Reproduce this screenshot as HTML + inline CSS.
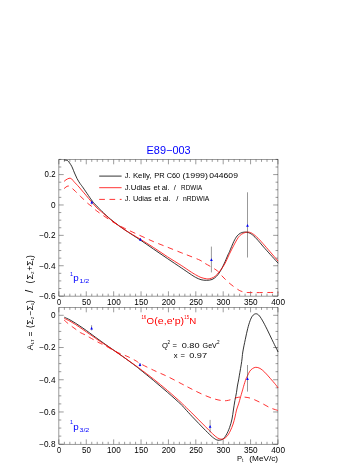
<!DOCTYPE html><html><head><meta charset="utf-8"><style>html,body{margin:0;padding:0;background:#fff}svg{display:block;will-change:transform}text{font-family:"Liberation Sans",sans-serif}</style></head><body>
<svg width="364" height="471" viewBox="0 0 364 471">
<rect width="364" height="471" fill="#fff"/>
<g stroke="#222" stroke-width="0.45" fill="none">
<rect x="58.90" y="159.50" width="219.05" height="136.60"/>
<rect x="58.90" y="307.50" width="219.05" height="136.70"/>
<path d="M58.90 159.50v4.80M58.90 296.10v-4.80M64.38 159.50v2.40M64.38 296.10v-2.40M69.85 159.50v2.40M69.85 296.10v-2.40M75.33 159.50v2.40M75.33 296.10v-2.40M80.81 159.50v2.40M80.81 296.10v-2.40M86.28 159.50v4.80M86.28 296.10v-4.80M91.76 159.50v2.40M91.76 296.10v-2.40M97.23 159.50v2.40M97.23 296.10v-2.40M102.71 159.50v2.40M102.71 296.10v-2.40M108.19 159.50v2.40M108.19 296.10v-2.40M113.66 159.50v4.80M113.66 296.10v-4.80M119.14 159.50v2.40M119.14 296.10v-2.40M124.61 159.50v2.40M124.61 296.10v-2.40M130.09 159.50v2.40M130.09 296.10v-2.40M135.57 159.50v2.40M135.57 296.10v-2.40M141.04 159.50v4.80M141.04 296.10v-4.80M146.52 159.50v2.40M146.52 296.10v-2.40M152.00 159.50v2.40M152.00 296.10v-2.40M157.47 159.50v2.40M157.47 296.10v-2.40M162.95 159.50v2.40M162.95 296.10v-2.40M168.43 159.50v4.80M168.43 296.10v-4.80M173.90 159.50v2.40M173.90 296.10v-2.40M179.38 159.50v2.40M179.38 296.10v-2.40M184.85 159.50v2.40M184.85 296.10v-2.40M190.33 159.50v2.40M190.33 296.10v-2.40M195.81 159.50v4.80M195.81 296.10v-4.80M201.28 159.50v2.40M201.28 296.10v-2.40M206.76 159.50v2.40M206.76 296.10v-2.40M212.23 159.50v2.40M212.23 296.10v-2.40M217.71 159.50v2.40M217.71 296.10v-2.40M223.19 159.50v4.80M223.19 296.10v-4.80M228.66 159.50v2.40M228.66 296.10v-2.40M234.14 159.50v2.40M234.14 296.10v-2.40M239.62 159.50v2.40M239.62 296.10v-2.40M245.09 159.50v2.40M245.09 296.10v-2.40M250.57 159.50v4.80M250.57 296.10v-4.80M256.05 159.50v2.40M256.05 296.10v-2.40M261.52 159.50v2.40M261.52 296.10v-2.40M267.00 159.50v2.40M267.00 296.10v-2.40M272.47 159.50v2.40M272.47 296.10v-2.40M277.95 159.50v4.80M277.95 296.10v-4.80M58.90 307.50v4.80M58.90 444.20v-4.80M64.38 307.50v2.40M64.38 444.20v-2.40M69.85 307.50v2.40M69.85 444.20v-2.40M75.33 307.50v2.40M75.33 444.20v-2.40M80.81 307.50v2.40M80.81 444.20v-2.40M86.28 307.50v4.80M86.28 444.20v-4.80M91.76 307.50v2.40M91.76 444.20v-2.40M97.23 307.50v2.40M97.23 444.20v-2.40M102.71 307.50v2.40M102.71 444.20v-2.40M108.19 307.50v2.40M108.19 444.20v-2.40M113.66 307.50v4.80M113.66 444.20v-4.80M119.14 307.50v2.40M119.14 444.20v-2.40M124.61 307.50v2.40M124.61 444.20v-2.40M130.09 307.50v2.40M130.09 444.20v-2.40M135.57 307.50v2.40M135.57 444.20v-2.40M141.04 307.50v4.80M141.04 444.20v-4.80M146.52 307.50v2.40M146.52 444.20v-2.40M152.00 307.50v2.40M152.00 444.20v-2.40M157.47 307.50v2.40M157.47 444.20v-2.40M162.95 307.50v2.40M162.95 444.20v-2.40M168.43 307.50v4.80M168.43 444.20v-4.80M173.90 307.50v2.40M173.90 444.20v-2.40M179.38 307.50v2.40M179.38 444.20v-2.40M184.85 307.50v2.40M184.85 444.20v-2.40M190.33 307.50v2.40M190.33 444.20v-2.40M195.81 307.50v4.80M195.81 444.20v-4.80M201.28 307.50v2.40M201.28 444.20v-2.40M206.76 307.50v2.40M206.76 444.20v-2.40M212.23 307.50v2.40M212.23 444.20v-2.40M217.71 307.50v2.40M217.71 444.20v-2.40M223.19 307.50v4.80M223.19 444.20v-4.80M228.66 307.50v2.40M228.66 444.20v-2.40M234.14 307.50v2.40M234.14 444.20v-2.40M239.62 307.50v2.40M239.62 444.20v-2.40M245.09 307.50v2.40M245.09 444.20v-2.40M250.57 307.50v4.80M250.57 444.20v-4.80M256.05 307.50v2.40M256.05 444.20v-2.40M261.52 307.50v2.40M261.52 444.20v-2.40M267.00 307.50v2.40M267.00 444.20v-2.40M272.47 307.50v2.40M272.47 444.20v-2.40M277.95 307.50v4.80M277.95 444.20v-4.80M58.90 296.11h4.80M277.95 296.11h-4.80M58.90 288.51h2.40M277.95 288.51h-2.40M58.90 280.92h2.40M277.95 280.92h-2.40M58.90 273.32h2.40M277.95 273.32h-2.40M58.90 265.73h4.80M277.95 265.73h-4.80M58.90 258.13h2.40M277.95 258.13h-2.40M58.90 250.54h2.40M277.95 250.54h-2.40M58.90 242.94h2.40M277.95 242.94h-2.40M58.90 235.35h4.80M277.95 235.35h-4.80M58.90 227.75h2.40M277.95 227.75h-2.40M58.90 220.16h2.40M277.95 220.16h-2.40M58.90 212.56h2.40M277.95 212.56h-2.40M58.90 204.97h4.80M277.95 204.97h-4.80M58.90 197.38h2.40M277.95 197.38h-2.40M58.90 189.78h2.40M277.95 189.78h-2.40M58.90 182.19h2.40M277.95 182.19h-2.40M58.90 174.59h4.80M277.95 174.59h-4.80M58.90 167.00h2.40M277.95 167.00h-2.40M58.90 159.40h2.40M277.95 159.40h-2.40M58.90 444.18h4.80M277.95 444.18h-4.80M58.90 436.12h2.40M277.95 436.12h-2.40M58.90 428.07h2.40M277.95 428.07h-2.40M58.90 420.01h2.40M277.95 420.01h-2.40M58.90 411.96h4.80M277.95 411.96h-4.80M58.90 403.91h2.40M277.95 403.91h-2.40M58.90 395.85h2.40M277.95 395.85h-2.40M58.90 387.80h2.40M277.95 387.80h-2.40M58.90 379.74h4.80M277.95 379.74h-4.80M58.90 371.69h2.40M277.95 371.69h-2.40M58.90 363.63h2.40M277.95 363.63h-2.40M58.90 355.57h2.40M277.95 355.57h-2.40M58.90 347.52h4.80M277.95 347.52h-4.80M58.90 339.47h2.40M277.95 339.47h-2.40M58.90 331.41h2.40M277.95 331.41h-2.40M58.90 323.36h2.40M277.95 323.36h-2.40M58.90 315.30h4.80M277.95 315.30h-4.80"/>
</g>
<g fill="none" stroke-width="0.80" stroke-linejoin="round">
<path stroke="#000" d="M64.00 160.00 C64.50 160.07 66.27 160.17 67.00 160.40 C67.73 160.63 67.77 160.68 68.40 161.40 C69.03 162.12 70.12 163.60 70.80 164.70 C71.48 165.80 71.88 166.62 72.50 168.00 C73.12 169.38 73.75 171.25 74.50 173.00 C75.25 174.75 76.08 176.75 77.00 178.50 C77.92 180.25 79.13 182.18 80.00 183.50 C80.87 184.82 81.00 184.70 82.20 186.40 C83.40 188.10 85.62 191.38 87.20 193.70 C88.78 196.02 90.47 198.62 91.70 200.30 C92.93 201.98 93.50 202.58 94.60 203.80 C95.70 205.02 97.40 206.67 98.30 207.60 C99.20 208.53 98.88 208.28 100.00 209.40 C101.12 210.52 102.83 212.33 105.00 214.30 C107.17 216.27 109.67 218.58 113.00 221.20 C116.33 223.82 120.50 226.90 125.00 230.00 C129.50 233.10 135.22 236.60 140.00 239.80 C144.78 243.00 149.12 246.07 153.70 249.20 C158.28 252.33 162.92 255.50 167.50 258.60 C172.08 261.70 177.45 265.27 181.20 267.80 C184.95 270.33 187.62 272.22 190.00 273.80 C192.38 275.38 193.67 276.32 195.50 277.30 C197.33 278.28 199.17 279.20 201.00 279.70 C202.83 280.20 204.67 280.33 206.50 280.30 C208.33 280.27 210.35 280.15 212.00 279.50 C213.65 278.85 215.03 277.75 216.40 276.40 C217.77 275.05 218.93 273.47 220.20 271.40 C221.47 269.33 222.72 266.73 224.00 264.00 C225.28 261.27 226.97 257.10 227.90 255.00 C228.83 252.90 228.62 253.65 229.60 251.40 C230.58 249.15 232.55 244.07 233.80 241.50 C235.05 238.93 236.00 237.38 237.10 236.00 C238.20 234.62 239.22 233.85 240.40 233.20 C241.58 232.55 242.92 232.22 244.20 232.10 C245.48 231.98 246.72 232.03 248.10 232.50 C249.48 232.97 250.85 233.58 252.50 234.90 C254.15 236.22 255.92 238.12 258.00 240.40 C260.08 242.68 261.63 244.80 265.00 248.60 C268.37 252.40 276.00 260.77 278.20 263.20"/>
<path stroke="#f00" d="M64.00 181.50 C64.33 181.22 65.17 180.33 66.00 179.80 C66.83 179.27 68.17 178.52 69.00 178.30 C69.83 178.08 70.42 178.25 71.00 178.50 C71.58 178.75 72.00 179.27 72.50 179.80 C73.00 180.33 72.92 180.50 74.00 181.70 C75.08 182.90 77.35 185.15 79.00 187.00 C80.65 188.85 82.27 190.87 83.90 192.80 C85.53 194.73 87.28 196.80 88.80 198.60 C90.32 200.40 91.63 202.03 93.00 203.60 C94.37 205.17 95.83 206.85 97.00 208.00 C98.17 209.15 98.67 209.37 100.00 210.50 C101.33 211.63 102.83 212.97 105.00 214.80 C107.17 216.63 109.67 218.97 113.00 221.50 C116.33 224.03 120.50 227.08 125.00 230.00 C129.50 232.92 135.22 236.07 140.00 239.00 C144.78 241.93 149.12 244.63 153.70 247.60 C158.28 250.57 162.92 253.83 167.50 256.80 C172.08 259.77 177.45 262.98 181.20 265.40 C184.95 267.82 187.62 269.75 190.00 271.30 C192.38 272.85 193.67 273.67 195.50 274.70 C197.33 275.73 199.17 276.82 201.00 277.50 C202.83 278.18 205.13 278.58 206.50 278.80 C207.87 279.02 208.02 279.05 209.20 278.80 C210.38 278.55 212.22 278.10 213.60 277.30 C214.98 276.50 216.22 275.35 217.50 274.00 C218.78 272.65 220.03 270.98 221.30 269.20 C222.57 267.42 223.78 265.75 225.10 263.30 C226.42 260.85 227.75 257.50 229.20 254.50 C230.65 251.50 232.30 248.12 233.80 245.30 C235.30 242.48 236.92 239.43 238.20 237.60 C239.48 235.77 240.32 235.15 241.50 234.30 C242.68 233.45 244.12 232.87 245.30 232.50 C246.48 232.13 247.40 231.92 248.60 232.10 C249.80 232.28 250.93 232.58 252.50 233.60 C254.07 234.62 255.92 236.15 258.00 238.20 C260.08 240.25 261.63 242.07 265.00 245.90 C268.37 249.73 276.00 258.65 278.20 261.20"/>
<path stroke="#f00" stroke-dasharray="5.7 4.57" d="M64.00 188.70 C64.33 188.42 65.33 187.45 66.00 187.00 C66.67 186.55 67.33 186.08 68.00 186.00 C68.67 185.92 69.33 186.13 70.00 186.50 C70.67 186.87 71.33 187.62 72.00 188.20 C72.67 188.78 73.18 189.23 74.00 190.00 C74.82 190.77 75.87 191.78 76.90 192.80 C77.93 193.82 79.03 194.97 80.20 196.10 C81.37 197.23 82.60 198.35 83.90 199.60 C85.20 200.85 86.70 202.47 88.00 203.60 C89.30 204.73 90.53 205.42 91.70 206.40 C92.87 207.38 93.62 208.35 95.00 209.50 C96.38 210.65 97.00 211.22 100.00 213.30 C103.00 215.38 108.83 219.47 113.00 222.00 C117.17 224.53 120.50 226.25 125.00 228.50 C129.50 230.75 135.22 233.30 140.00 235.50 C144.78 237.70 149.12 239.75 153.70 241.70 C158.28 243.65 162.92 245.37 167.50 247.20 C172.08 249.03 177.45 251.22 181.20 252.70 C184.95 254.18 186.87 254.85 190.00 256.10 C193.13 257.35 197.62 259.05 200.00 260.20 C202.38 261.35 202.63 262.00 204.30 263.00 C205.97 264.00 207.80 264.87 210.00 266.20 C212.20 267.53 215.33 269.20 217.50 271.00 C219.67 272.80 220.92 274.88 223.00 277.00 C225.08 279.12 227.50 281.60 230.00 283.70 C232.50 285.80 236.00 288.30 238.00 289.60 C240.00 290.90 240.67 291.03 242.00 291.50 C243.33 291.97 243.83 292.22 246.00 292.40 C248.17 292.58 249.63 292.60 255.00 292.60 C260.37 292.60 274.33 292.43 278.20 292.40"/>
<path stroke="#000" d="M64.30 317.20 C65.25 317.65 68.13 318.90 70.00 319.90 C71.87 320.90 73.67 322.05 75.50 323.20 C77.33 324.35 79.17 325.57 81.00 326.80 C82.83 328.03 84.67 329.28 86.50 330.60 C88.33 331.92 89.92 333.17 92.00 334.70 C94.08 336.23 96.22 337.80 99.00 339.80 C101.78 341.80 104.78 343.95 108.70 346.70 C112.62 349.45 117.92 353.02 122.50 356.30 C127.08 359.58 133.28 364.20 136.20 366.40 C139.12 368.60 137.08 367.13 140.00 369.50 C142.92 371.87 149.12 376.80 153.70 380.60 C158.28 384.40 162.92 388.30 167.50 392.30 C172.08 396.30 178.28 401.85 181.20 404.60 C184.12 407.35 183.22 406.85 185.00 408.80 C186.78 410.75 189.62 413.87 191.90 416.30 C194.18 418.73 196.42 421.03 198.70 423.40 C200.98 425.77 203.30 428.22 205.60 430.50 C207.90 432.78 210.67 435.55 212.50 437.10 C214.33 438.65 215.47 439.28 216.60 439.80 C217.73 440.32 218.27 440.32 219.30 440.20 C220.33 440.08 221.65 439.97 222.80 439.10 C223.95 438.23 225.07 436.93 226.20 435.00 C227.33 433.07 228.63 430.17 229.60 427.50 C230.57 424.83 231.37 421.92 232.00 419.00 C232.63 416.08 232.92 413.07 233.40 410.00 C233.88 406.93 234.38 403.53 234.90 400.60 C235.42 397.67 236.08 394.83 236.50 392.40 C236.92 389.97 237.05 388.07 237.40 386.00 C237.75 383.93 238.27 381.80 238.60 380.00 C238.93 378.20 238.88 378.28 239.40 375.20 C239.92 372.12 241.13 365.37 241.70 361.50 C242.27 357.63 242.20 355.68 242.80 352.00 C243.40 348.32 244.48 343.30 245.30 339.40 C246.12 335.50 246.90 331.72 247.70 328.60 C248.50 325.48 249.30 322.82 250.10 320.70 C250.90 318.58 251.60 317.05 252.50 315.90 C253.40 314.75 254.48 313.95 255.50 313.80 C256.52 313.65 257.48 313.95 258.60 315.00 C259.72 316.05 260.80 317.73 262.20 320.10 C263.60 322.47 265.38 325.98 267.00 329.20 C268.62 332.42 270.05 335.60 271.90 339.40 C273.75 343.20 277.07 349.90 278.10 352.00"/>
<path stroke="#f00" d="M64.30 318.40 C65.25 318.87 68.13 320.18 70.00 321.20 C71.87 322.22 73.67 323.33 75.50 324.50 C77.33 325.67 79.17 326.95 81.00 328.20 C82.83 329.45 84.67 330.73 86.50 332.00 C88.33 333.27 89.92 334.35 92.00 335.80 C94.08 337.25 96.22 338.83 99.00 340.70 C101.78 342.57 104.78 344.38 108.70 347.00 C112.62 349.62 117.92 353.23 122.50 356.40 C127.08 359.57 133.28 363.93 136.20 366.00 C139.12 368.07 137.08 366.60 140.00 368.80 C142.92 371.00 149.12 375.58 153.70 379.20 C158.28 382.82 162.92 386.60 167.50 390.50 C172.08 394.40 178.28 399.95 181.20 402.60 C184.12 405.25 183.22 404.67 185.00 406.40 C186.78 408.13 189.62 410.75 191.90 413.00 C194.18 415.25 196.42 417.60 198.70 419.90 C200.98 422.20 203.30 424.50 205.60 426.80 C207.90 429.10 210.55 431.87 212.50 433.70 C214.45 435.53 215.93 436.90 217.30 437.80 C218.67 438.70 219.67 438.92 220.70 439.10 C221.73 439.28 222.47 439.35 223.50 438.90 C224.53 438.45 225.77 437.73 226.90 436.40 C228.03 435.07 229.27 432.97 230.30 430.90 C231.33 428.83 232.32 426.32 233.10 424.00 C233.88 421.68 234.43 419.33 235.00 417.00 C235.57 414.67 235.90 412.18 236.50 410.00 C237.10 407.82 237.90 406.15 238.60 403.90 C239.30 401.65 239.95 399.12 240.70 396.50 C241.45 393.88 242.60 389.95 243.10 388.20 C243.60 386.45 243.23 387.52 243.70 386.00 C244.17 384.48 245.27 380.80 245.90 379.10 C246.53 377.40 246.85 377.12 247.50 375.80 C248.15 374.48 248.97 372.40 249.80 371.20 C250.63 370.00 251.50 369.25 252.50 368.60 C253.50 367.95 254.55 367.33 255.80 367.30 C257.05 367.27 258.52 367.58 260.00 368.40 C261.48 369.22 263.00 370.55 264.70 372.20 C266.40 373.85 268.37 376.22 270.20 378.30 C272.03 380.38 274.38 383.08 275.70 384.70 C277.02 386.32 277.70 387.45 278.10 388.00"/>
<path stroke="#f00" stroke-dasharray="5.6 4.47" d="M64.00 319.90 C64.53 320.38 65.83 321.67 67.20 322.80 C68.57 323.93 70.63 325.52 72.20 326.70 C73.77 327.88 75.23 328.92 76.60 329.90 C77.97 330.88 78.93 331.75 80.40 332.60 C81.87 333.45 83.93 334.23 85.40 335.00 C86.87 335.77 87.73 336.37 89.20 337.20 C90.67 338.03 92.57 339.08 94.20 340.00 C95.83 340.92 97.20 341.77 99.00 342.70 C100.80 343.63 102.00 344.02 105.00 345.60 C108.00 347.18 113.17 350.35 117.00 352.20 C120.83 354.05 124.80 355.23 128.00 356.70 C131.20 358.17 134.20 359.87 136.20 361.00 C138.20 362.13 137.08 361.95 140.00 363.50 C142.92 365.05 149.12 368.13 153.70 370.30 C158.28 372.47 162.92 374.28 167.50 376.50 C172.08 378.72 177.45 381.65 181.20 383.60 C184.95 385.55 186.87 386.60 190.00 388.20 C193.13 389.80 196.33 391.53 200.00 393.20 C203.67 394.87 208.33 396.97 212.00 398.20 C215.67 399.43 219.25 400.25 222.00 400.60 C224.75 400.95 226.17 400.77 228.50 400.30 C230.83 399.83 233.92 398.35 236.00 397.80 C238.08 397.25 239.33 397.08 241.00 397.00 C242.67 396.92 244.27 397.05 246.00 397.30 C247.73 397.55 249.07 397.67 251.40 398.50 C253.73 399.33 256.90 400.77 260.00 402.30 C263.10 403.83 266.98 406.33 270.00 407.70 C273.02 409.07 276.75 410.03 278.10 410.50"/>
<path stroke="#000" d="M99.2 176.1H121.6"/>
<path stroke="#f00" d="M99.2 187.7H121.6"/>
<path stroke="#f00" stroke-dasharray="5.7 4.57" d="M99.2 199.4H121.6"/>
</g>
<path stroke="#333" stroke-width="0.5" d="M91.80 200.40V204.40"/>
<path fill="#00f" d="M91.80 200.80l1.35 2.8h-2.7z"/>
<path stroke="#333" stroke-width="0.5" d="M140.40 238.00V241.00"/>
<path fill="#00f" d="M140.40 238.00l1.35 2.8h-2.7z"/>
<path stroke="#333" stroke-width="0.5" d="M211.40 246.60V272.40"/>
<path fill="#00f" d="M211.40 258.30l1.35 2.8h-2.7z"/>
<path stroke="#333" stroke-width="0.5" d="M247.50 192.30V257.50"/>
<path fill="#00f" d="M247.50 223.90l1.35 2.8h-2.7z"/>
<path stroke="#333" stroke-width="0.5" d="M91.60 325.20V330.40"/>
<path fill="#00f" d="M91.60 326.80l1.35 2.8h-2.7z"/>
<path stroke="#333" stroke-width="0.5" d="M140.00 363.00V366.40"/>
<path fill="#00f" d="M140.00 363.10l1.35 2.8h-2.7z"/>
<path stroke="#333" stroke-width="0.5" d="M210.10 419.90V432.40"/>
<path fill="#00f" d="M210.10 424.90l1.35 2.8h-2.7z"/>
<path stroke="#333" stroke-width="0.5" d="M247.50 365.00V391.60"/>
<path fill="#00f" d="M247.50 377.30l1.35 2.8h-2.7z"/>
<text x="146.60" y="154.10" font-size="10.60" fill="#00f" text-anchor="start" textLength="44.0" lengthAdjust="spacingAndGlyphs" >E89−003</text>
<text x="124.70" y="177.90" font-size="7.50" fill="#000" text-anchor="start" >J.</text>
<text x="132.90" y="177.90" font-size="7.50" fill="#000" text-anchor="start" textLength="18.6" lengthAdjust="spacingAndGlyphs" >Kelly,</text>
<text x="154.30" y="177.90" font-size="7.50" fill="#000" text-anchor="start" >PR</text>
<text x="166.70" y="177.90" font-size="7.50" fill="#000" text-anchor="start" textLength="13.4" lengthAdjust="spacingAndGlyphs" >C60</text>
<text x="182.40" y="177.90" font-size="7.50" fill="#000" text-anchor="start" textLength="25.6" lengthAdjust="spacingAndGlyphs" >(1999)</text>
<text x="209.30" y="177.90" font-size="7.50" fill="#000" text-anchor="start" textLength="28.6" lengthAdjust="spacingAndGlyphs" >044609</text>
<text x="124.70" y="189.50" font-size="7.50" fill="#000" text-anchor="start" textLength="26.0" lengthAdjust="spacingAndGlyphs" >J.Udias</text>
<text x="153.50" y="189.50" font-size="7.50" fill="#000" text-anchor="start" >et</text>
<text x="161.70" y="189.50" font-size="7.50" fill="#000" text-anchor="start" textLength="7.9" lengthAdjust="spacingAndGlyphs" >al.</text>
<text x="173.70" y="189.50" font-size="7.50" fill="#000" text-anchor="start" >/</text>
<text x="181.10" y="189.50" font-size="7.50" fill="#000" text-anchor="start" textLength="21.0" lengthAdjust="spacingAndGlyphs" >RDWIA</text>
<text x="124.70" y="201.10" font-size="7.50" fill="#000" text-anchor="start" >J.</text>
<text x="132.90" y="201.10" font-size="7.50" fill="#000" text-anchor="start" textLength="18.9" lengthAdjust="spacingAndGlyphs" >Udias</text>
<text x="154.50" y="201.10" font-size="7.50" fill="#000" text-anchor="start" >et</text>
<text x="162.70" y="201.10" font-size="7.50" fill="#000" text-anchor="start" textLength="7.9" lengthAdjust="spacingAndGlyphs" >al.</text>
<text x="176.30" y="201.10" font-size="7.50" fill="#000" text-anchor="start" >/</text>
<text x="182.90" y="201.10" font-size="7.50" fill="#000" text-anchor="start" textLength="26.4" lengthAdjust="spacingAndGlyphs" >nRDWIA</text>
<text x="44.60" y="177.49" font-size="8.20" fill="#000" text-anchor="start" textLength="10.9" lengthAdjust="spacingAndGlyphs" >0.2</text>
<text x="50.90" y="207.87" font-size="8.20" fill="#000" text-anchor="start" textLength="4.6" lengthAdjust="spacingAndGlyphs" >0</text>
<text x="39.20" y="238.25" font-size="8.20" fill="#000" text-anchor="start" textLength="16.3" lengthAdjust="spacingAndGlyphs" >−0.2</text>
<text x="39.20" y="268.63" font-size="8.20" fill="#000" text-anchor="start" textLength="16.3" lengthAdjust="spacingAndGlyphs" >−0.4</text>
<text x="39.20" y="299.01" font-size="8.20" fill="#000" text-anchor="start" textLength="16.3" lengthAdjust="spacingAndGlyphs" >−0.6</text>
<text x="50.90" y="318.20" font-size="8.20" fill="#000" text-anchor="start" textLength="4.6" lengthAdjust="spacingAndGlyphs" >0</text>
<text x="39.20" y="350.42" font-size="8.20" fill="#000" text-anchor="start" textLength="16.3" lengthAdjust="spacingAndGlyphs" >−0.2</text>
<text x="39.20" y="382.64" font-size="8.20" fill="#000" text-anchor="start" textLength="16.3" lengthAdjust="spacingAndGlyphs" >−0.4</text>
<text x="39.20" y="414.86" font-size="8.20" fill="#000" text-anchor="start" textLength="16.3" lengthAdjust="spacingAndGlyphs" >−0.6</text>
<text x="39.20" y="447.08" font-size="8.20" fill="#000" text-anchor="start" textLength="16.3" lengthAdjust="spacingAndGlyphs" >−0.8</text>
<text x="57.05" y="304.70" font-size="8.20" fill="#000" text-anchor="start" textLength="4.1" lengthAdjust="spacingAndGlyphs" >0</text>
<text x="57.05" y="452.60" font-size="8.20" fill="#000" text-anchor="start" textLength="4.1" lengthAdjust="spacingAndGlyphs" >0</text>
<text x="82.03" y="304.70" font-size="8.20" fill="#000" text-anchor="start" textLength="8.9" lengthAdjust="spacingAndGlyphs" >50</text>
<text x="82.03" y="452.60" font-size="8.20" fill="#000" text-anchor="start" textLength="8.9" lengthAdjust="spacingAndGlyphs" >50</text>
<text x="107.01" y="304.70" font-size="8.20" fill="#000" text-anchor="start" textLength="13.7" lengthAdjust="spacingAndGlyphs" >100</text>
<text x="107.01" y="452.60" font-size="8.20" fill="#000" text-anchor="start" textLength="13.7" lengthAdjust="spacingAndGlyphs" >100</text>
<text x="134.39" y="304.70" font-size="8.20" fill="#000" text-anchor="start" textLength="13.7" lengthAdjust="spacingAndGlyphs" >150</text>
<text x="134.39" y="452.60" font-size="8.20" fill="#000" text-anchor="start" textLength="13.7" lengthAdjust="spacingAndGlyphs" >150</text>
<text x="161.78" y="304.70" font-size="8.20" fill="#000" text-anchor="start" textLength="13.7" lengthAdjust="spacingAndGlyphs" >200</text>
<text x="161.78" y="452.60" font-size="8.20" fill="#000" text-anchor="start" textLength="13.7" lengthAdjust="spacingAndGlyphs" >200</text>
<text x="189.16" y="304.70" font-size="8.20" fill="#000" text-anchor="start" textLength="13.7" lengthAdjust="spacingAndGlyphs" >250</text>
<text x="189.16" y="452.60" font-size="8.20" fill="#000" text-anchor="start" textLength="13.7" lengthAdjust="spacingAndGlyphs" >250</text>
<text x="216.54" y="304.70" font-size="8.20" fill="#000" text-anchor="start" textLength="13.7" lengthAdjust="spacingAndGlyphs" >300</text>
<text x="216.54" y="452.60" font-size="8.20" fill="#000" text-anchor="start" textLength="13.7" lengthAdjust="spacingAndGlyphs" >300</text>
<text x="243.92" y="304.70" font-size="8.20" fill="#000" text-anchor="start" textLength="13.7" lengthAdjust="spacingAndGlyphs" >350</text>
<text x="243.92" y="452.60" font-size="8.20" fill="#000" text-anchor="start" textLength="13.7" lengthAdjust="spacingAndGlyphs" >350</text>
<text x="271.30" y="304.70" font-size="8.20" fill="#000" text-anchor="start" textLength="13.7" lengthAdjust="spacingAndGlyphs" >400</text>
<text x="271.30" y="452.60" font-size="8.20" fill="#000" text-anchor="start" textLength="13.7" lengthAdjust="spacingAndGlyphs" >400</text>
<text font-size="7.6" fill="#000"><tspan x="237" y="460.6">P</tspan><tspan x="242" y="461.8" font-size="4.6">t</tspan><tspan x="249.3" y="460.6" textLength="28.8" lengthAdjust="spacingAndGlyphs">(MeV/c)</tspan></text>
<text transform="translate(32.8 350.2) rotate(-90)" fill="#000"><tspan x="0.0" y="0.0" font-size="8.6">A</tspan><tspan x="6.3" y="1.3" font-size="4.2">LT</tspan><tspan x="13.8" y="0.0" font-size="8.6">=</tspan><tspan x="22.3" y="0.0" font-size="8.6">(</tspan><tspan x="25.4" y="0.0" font-size="8.8">Σ</tspan><tspan x="30.9" y="1.3" font-size="4.4">2</tspan><tspan x="34.3" y="0.0" font-size="8.6">−</tspan><tspan x="39.6" y="0.0" font-size="8.8">Σ</tspan><tspan x="45.0" y="1.3" font-size="4.4">1</tspan><tspan x="47.3" y="0.0" font-size="8.6">)</tspan><tspan x="57.5" y="0.0" font-size="10.5">/</tspan><tspan x="66.8" y="0.0" font-size="8.6">(</tspan><tspan x="70.6" y="0.0" font-size="8.8">Σ</tspan><tspan x="76.1" y="1.3" font-size="4.4">2</tspan><tspan x="79.4" y="0.0" font-size="8.6">+</tspan><tspan x="84.4" y="0.0" font-size="8.8">Σ</tspan><tspan x="89.8" y="1.3" font-size="4.4">1</tspan><tspan x="92.2" y="0.0" font-size="8.6">)</tspan></text>
<text font-size="9.8" fill="#00f"><tspan x="70.1" y="275.7" font-size="5.4">1</tspan><tspan x="73.2" y="281.1">p</tspan><tspan x="79.5" y="283.1" font-size="6.2" textLength="9.8" lengthAdjust="spacingAndGlyphs">1/2</tspan></text>
<text font-size="9.8" fill="#00f"><tspan x="70.1" y="424.4" font-size="5.4">1</tspan><tspan x="73.2" y="429.8">p</tspan><tspan x="79.5" y="431.8" font-size="6.2" textLength="9.8" lengthAdjust="spacingAndGlyphs">3/2</tspan></text>
<text font-size="9.7" fill="#f00"><tspan x="141.4" y="319.2" font-size="5.6" textLength="4.9" lengthAdjust="spacingAndGlyphs">16</tspan><tspan x="146.6" y="324.1">O</tspan><tspan x="154.3" y="324.1" textLength="29.8" lengthAdjust="spacingAndGlyphs">(e,e'p)</tspan><tspan x="184.3" y="319.2" font-size="5.6" textLength="4.7" lengthAdjust="spacingAndGlyphs">15</tspan><tspan x="189.3" y="324.1">N</tspan></text>
<text font-size="7.6" fill="#000"><tspan x="162" y="347.6">Q</tspan><tspan x="167.6" y="344.3" font-size="4.6">2</tspan><tspan x="172.4" y="347.6">=</tspan><tspan x="181.7" y="347.6" textLength="17.9" lengthAdjust="spacingAndGlyphs">0.80</tspan><tspan x="202.6" y="347.6" textLength="14.3" lengthAdjust="spacingAndGlyphs">GeV</tspan><tspan x="217.1" y="344.3" font-size="4.6">2</tspan></text>
<text font-size="7.6" fill="#000"><tspan x="173.8" y="358.2">x</tspan><tspan x="180.4" y="358.2">=</tspan><tspan x="189.2" y="358.2" textLength="17.9" lengthAdjust="spacingAndGlyphs">0.97</tspan></text>
</svg></body></html>
